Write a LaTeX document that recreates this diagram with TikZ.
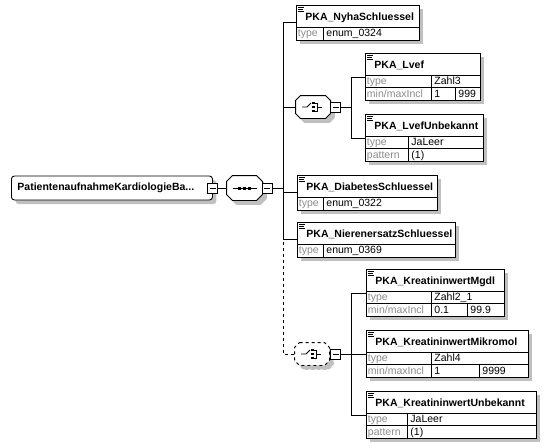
\documentclass[tikz,border=0pt]{standalone}
\usepackage{fontspec}
\setmainfont{Liberation Sans}
\usetikzlibrary{calc}
\usetikzlibrary{shadows}

\definecolor{shadowgray}{RGB}{192,192,192}
\definecolor{lblgray}{RGB}{140,140,140}

\tikzset{
  shd/.style={drop shadow={shadow xshift=4pt, shadow yshift=-4pt, fill=shadowgray, opacity=1}},
  elbox/.style={draw, fill=white, anchor=north west, inner sep=0, shd},
  rootbox/.style={draw, fill=white, rounded corners=3pt, anchor=west, minimum height=24pt, text width=189pt, inner xsep=6pt, inner ysep=0, font=\fontsize{10.5}{12}\selectfont\bfseries, shd},
  ttl/.style={anchor=base west, inner sep=0, font=\fontsize{10.5}{12}\selectfont\bfseries},
  lbl/.style={anchor=base west, inner sep=0, text=lblgray, font=\fontsize{10.5}{12}\selectfont},
  val/.style={anchor=base west, inner sep=0, font=\fontsize{10.5}{12}\selectfont},
  comp/.style={inner sep=0, minimum width=34pt, minimum height=22pt},
  pmbox/.style={draw, fill=white, minimum size=10pt, inner sep=0, path picture={\draw ([xshift=2pt]path picture bounding box.west) -- ([xshift=-2pt]path picture bounding box.east);}},
}

% element box: name, x, y, width, rows, title
\newcommand{\elem}[6]{%
  \node[elbox, minimum width=#4pt, minimum height={22pt+#5*12.5pt}] (#1) at (#2,#3) {};
  \node[ttl] at ([xshift=9pt,yshift=-15.5pt]#1.north west) {#6};
  \foreach \dy/\len in {2/6,4/5,6/6}
    \draw[line width=0.8pt] ([xshift=2pt,yshift=-\dy*1pt]#1.north west) -- ++(\len,0);
}
% attribute row: box, row, label width, label, value
\newcommand{\attr}[5]{%
  \coordinate (rw) at ([yshift={-22pt-#2*12.5pt}]#1.north west);
  \draw (rw) -- (rw -| #1.east);
  \draw ([xshift=#3pt]rw) -- ++(0,12.5);
  \node[lbl] at ([xshift=1.5pt,yshift=-9.5pt]rw) {#4};
  \node[val] at ([xshift={#3pt+3pt},yshift=-9.5pt]rw) {#5};
}
% min/max row: box, row, label width, split, min, max
\newcommand{\attrmm}[6]{%
  \attr{#1}{#2}{#3}{min/maxIncl}{#5}
  \draw ([xshift=#4pt]rw) -- ++(0,12.5);
  \node[val] at ([xshift={#4pt+3pt},yshift=-9.5pt]rw) {#6};
}
% compositor outline with shadow: node, chamfer, line options
\newcommand{\octa}[3]{%
  \foreach \sh/\fc/\dc in {4/shadowgray/shadowgray,0/white/black}
    \filldraw[fill=\fc, draw=\dc, #3, transform canvas={xshift=\sh*1pt, yshift=-\sh*1pt}]
      ([xshift=#2pt]#1.north west) -- ([xshift=-#2pt]#1.north east) -- ([yshift=-#2pt]#1.north east)
      -- ([yshift=#2pt]#1.south east) -- ([xshift=-#2pt]#1.south east) -- ([xshift=#2pt]#1.south west)
      -- ([yshift=#2pt]#1.south west) -- ([yshift=-#2pt]#1.north west) -- cycle;
}
% choice symbol inside a compositor
\newcommand{\choicesym}[1]{%
  \draw[line width=0.8pt] ([xshift=-11pt]#1.center) -- ++(5,0) -- ++(4,-4);
  \foreach \d in {-4,0,4} \fill ([yshift=\d*1pt]#1.center) +(-1,-1) rectangle +(1.5,1);
  \draw[line width=0.8pt] ([xshift=1.5pt,yshift=4pt]#1.center) -- ++(3,0) -- ++(0,8) -- ++(-3,0);
  \draw[line width=0.8pt] ([xshift=4.5pt]#1.center) -- ++(4,0);
}

\begin{document}
\begin{tikzpicture}[x=1pt, y=-1pt, line width=0.9pt]
\useasboundingbox (0,0) rectangle (550,448);

% root and sequence
\node[rootbox] (root) at (11,188) {PatientenaufnahmeKardiologieBa...};
\node[pmbox] (rootpm) at (root.east) {};
\node[comp, minimum width=35pt, minimum height=24pt] (seq) at (244.5,188) {};
\octa{seq}{6}{}
\draw[line width=0.8pt] ([xshift=-12pt]seq.center) -- ++(24,0);
\foreach \d in {-5,0,5} \fill ([xshift=\d*1pt]seq.center) +(-1.5,-1.5) rectangle +(1.5,1.5);
\node[pmbox] (seqpm) at (267,188) {};

% choices
\node[comp] (ch1) at (313,107) {};
\octa{ch1}{5}{}
\choicesym{ch1}
\node[pmbox] (ch1pm) at (335.5,107) {};
\node[comp] (ch2) at (312,354) {};
\octa{ch2}{5}{dashed}
\choicesym{ch2}
\node[pmbox] (ch2pm) at (335.5,354) {};

% elements
\elem{nyha}{296}{5}{123}{1}{PKA\_NyhaSchluessel}
\attr{nyha}{0}{27}{type}{enum\_0324}
\elem{lvef}{365}{53}{115}{2}{PKA\_Lvef}
\attr{lvef}{0}{66}{type}{Zahl3}
\attrmm{lvef}{1}{66}{90}{1}{999}
\elem{lvefunb}{365}{114}{118}{2}{PKA\_LvefUnbekannt}
\attr{lvefunb}{0}{43}{type}{JaLeer}
\attr{lvefunb}{1}{43}{pattern}{(1)}
\elem{diab}{297}{175}{140}{1}{PKA\_DiabetesSchluessel}
\attr{diab}{0}{26}{type}{enum\_0322}
\elem{niere}{297}{222}{158}{1}{PKA\_NierenersatzSchluessel}
\attr{niere}{0}{26}{type}{enum\_0369}
\elem{mgdl}{366}{269}{138}{2}{PKA\_KreatininwertMgdl}
\attr{mgdl}{0}{65}{type}{Zahl2\_1}
\attrmm{mgdl}{1}{65}{101}{0.1}{99.9}
\elem{mikro}{366}{330}{162}{2}{PKA\_KreatininwertMikromol}
\attr{mikro}{0}{65}{type}{Zahl4}
\attrmm{mikro}{1}{65}{113}{1}{9999}
\elem{kreaunb}{366}{391}{170}{2}{PKA\_KreatininwertUnbekannt}
\attr{kreaunb}{0}{41}{type}{JaLeer}
\attr{kreaunb}{1}{41}{pattern}{(1)}

% connectors
\coordinate (trunk) at (283,188);
\coordinate (ch1j) at (351,107);
\coordinate (ch2j) at (351,354);
\draw (rootpm) -- (seq);
\draw (seqpm) -- (trunk);
\foreach \n in {nyha,ch1,diab,niere} \draw (trunk) |- (\n.west);
\draw[dashed] (trunk) |- (ch2.west);
\draw (ch1pm) -- (ch1j);
\foreach \n in {lvef,lvefunb} \draw (ch1j) |- (\n.west);
\draw (ch2pm) -- (ch2j);
\foreach \n in {mgdl,mikro,kreaunb} \draw (ch2j) |- (\n.west);

\end{tikzpicture}
\end{document}
